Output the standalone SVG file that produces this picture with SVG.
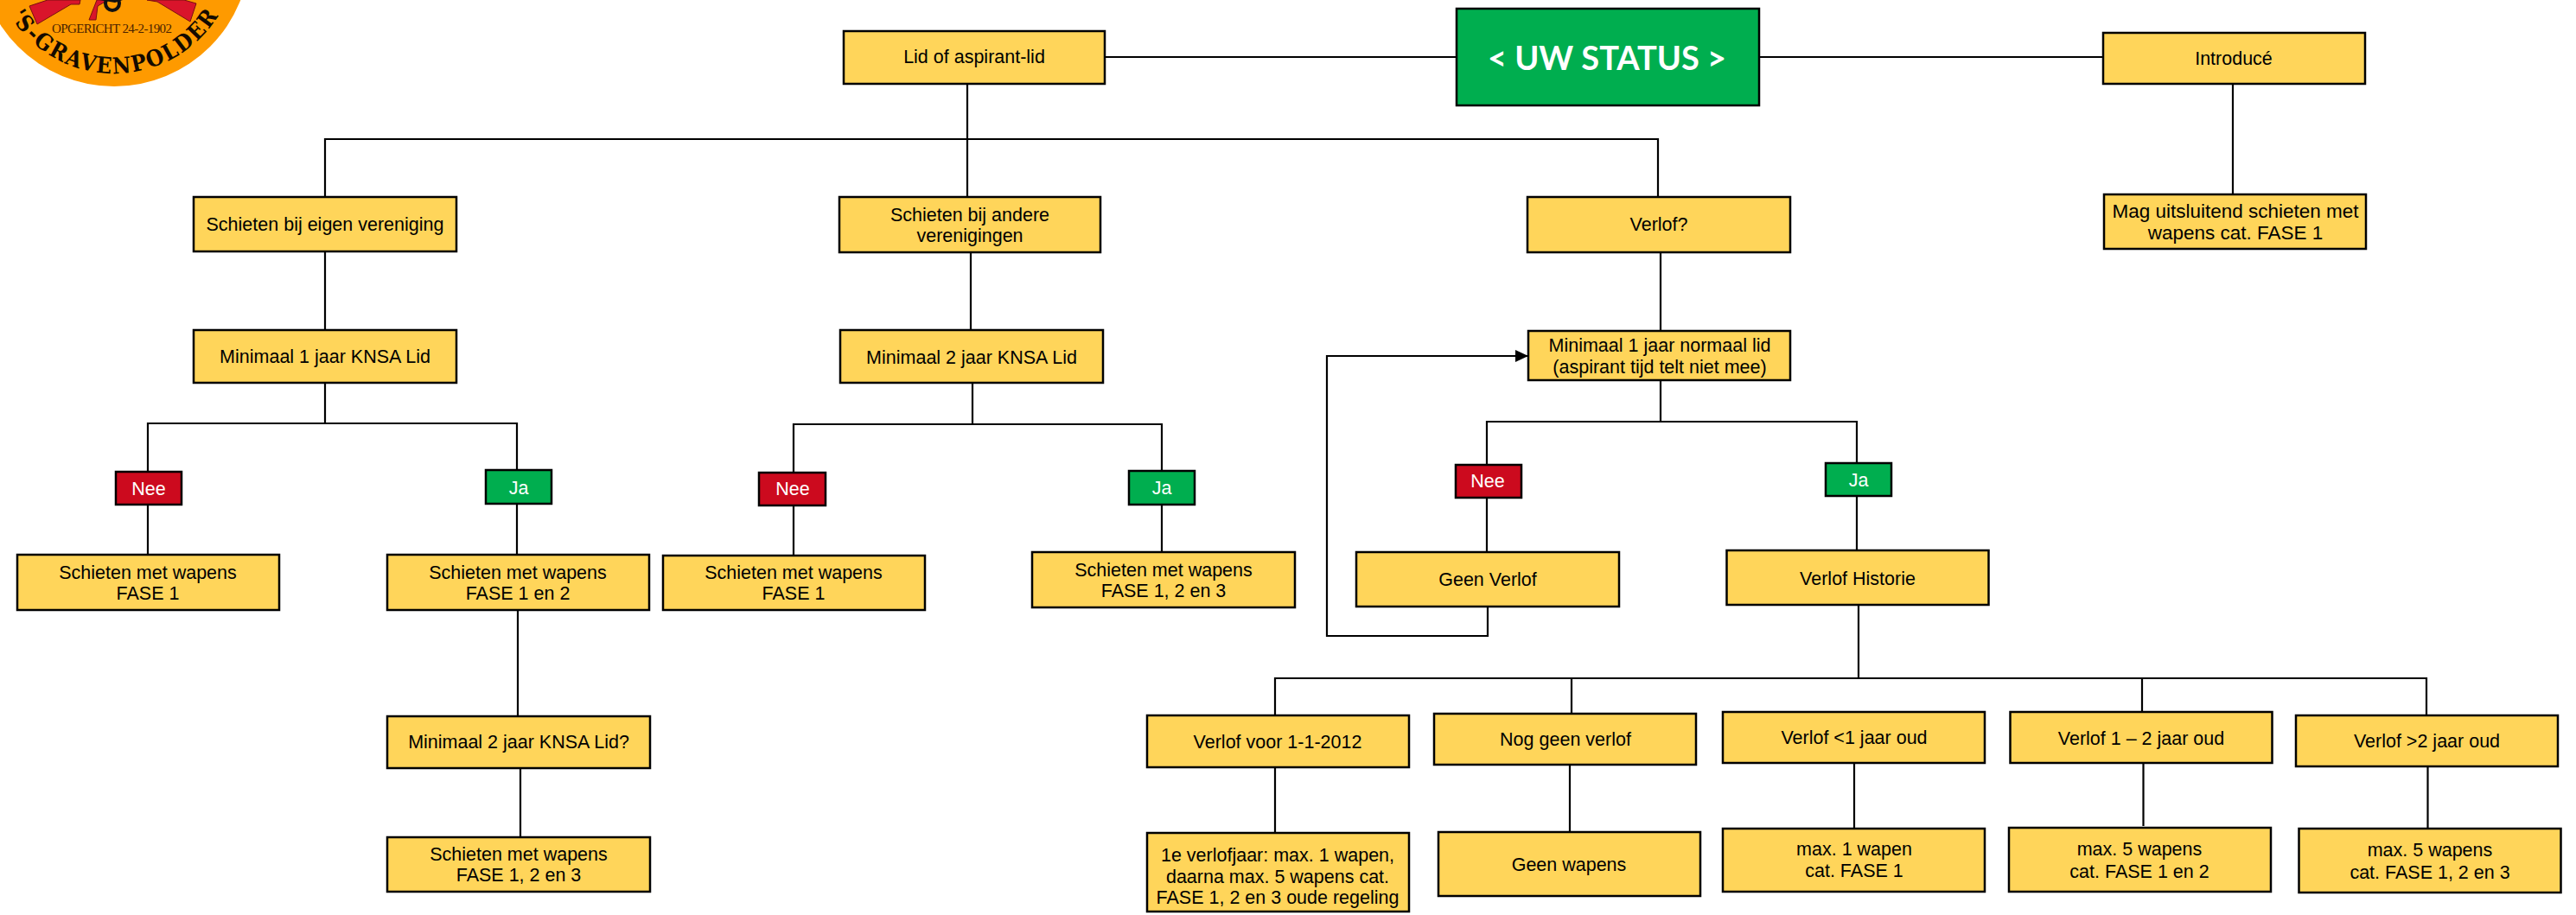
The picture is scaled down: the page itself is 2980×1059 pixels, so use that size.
<svg xmlns="http://www.w3.org/2000/svg" width="2980" height="1059" viewBox="0 0 2980 1059">
<style>
.b{fill:#FFD55A;stroke:#000;stroke-width:2.5}
.g{fill:#00AE4F;stroke:#000;stroke-width:2.5}
.r{fill:#CC0A1E;stroke:#000;stroke-width:2.5}
text{font-family:"Liberation Sans",Arial,sans-serif;font-size:21.5px;text-anchor:middle;fill:#000}
.w{fill:#fff}
.m{font-size:22.5px}
.s{font-family:Lato,"Liberation Sans",sans-serif;font-weight:700;font-size:38px;fill:#fff}
.c{fill:none;stroke:#000;stroke-width:2.2}
.l1{font-family:"Liberation Serif",serif;font-size:15px;fill:#4a2200}
.l2{font-family:"DejaVu Serif Condensed","DejaVu Serif",serif;font-size:26px;font-weight:700;fill:#140a00}
.red{fill:#D9142B;stroke:#7a1010;stroke-width:1}
</style>
<defs>
<marker id="arr" markerUnits="userSpaceOnUse" markerWidth="16" markerHeight="14" refX="15" refY="7" orient="auto"><path d="M0 0L15 7L0 14z" fill="#000"/></marker>
<path id="arc" d="M-10 -57A142 142 0 0 0 274 -57"/>
</defs>
<g id="logo">
<circle cx="132" cy="-57" r="157" fill="#FE9A00"/>
<path class="red" d="M34 7L43 28L82 5L92 5L93 0L55 0z"/>
<path class="red" d="M182 2L220 25L227 4L213 0L170 0z"/>
<path class="red" d="M103 23L111 23L113 7L125 0L112 0z"/>
<circle cx="130" cy="4" r="8" fill="none" stroke="#111" stroke-width="4"/>
<path d="M115 0L142 0L133 3z" fill="#111"/>
<text class="l1" x="129.500" y="38" textLength="139">OPGERICHT 24-2-1902</text>
<text class="l2"><textPath href="#arc" startOffset="50%" textLength="287">'S-GRAVENPOLDER</textPath></text>
</g>
<g id="connectors" class="c">
<path d="M1278 66H1685M2035 66H2433"/>
<path d="M1119 97V228M376 228V161H1918V228"/>
<path d="M2583 97V225"/>
<path d="M376 291V382M376 443V490M171 546V490H598V544M171 584V642M598 583V642M599 706V829M602 889V969"/>
<path d="M1123 292V382M1125 443V491M918 547V491H1344V545M918 585V643M1344 584V639"/>
<path d="M1921 292V383M1921 440V488M1720 538V488H2148V536M1720 576V639M2148 574V637"/>
<path d="M1721 702V736H1535V412H1768" marker-end="url(#arr)"/>
<path d="M2150 700V785M1475 828V785H2807V828M1818 785V826M2478 785V824"/>
<path d="M1475 888V964M1816 885V963M2145 883V959M2479.500 882V956M2808.500 887V959"/>
</g>
<g id="n-lid"><rect class="b" x="976" y="36" width="302" height="61"/><text x="1127" y="73">Lid of aspirant-lid</text></g>
<g id="n-status"><rect class="g" x="1685" y="10" width="350" height="112"/><text class="s" x="1859" y="81">&lt; UW STATUS &gt;</text></g>
<g id="n-intro"><rect class="b" x="2433" y="38" width="303" height="59"/><text x="2584" y="75">Introducé</text></g>
<g id="n-mag"><rect class="b" x="2434" y="225" width="303" height="63"/><text class="m" x="2586" y="252">Mag uitsluitend schieten met</text><text class="m" x="2586" y="277">wapens cat. FASE 1</text></g>
<g id="n-eigen"><rect class="b" x="224" y="228" width="304" height="63"/><text x="376" y="267">Schieten bij eigen vereniging</text></g>
<g id="n-andere"><rect class="b" x="971" y="228" width="302" height="64"/><text x="1122" y="256">Schieten bij andere</text><text x="1122" y="280">verenigingen</text></g>
<g id="n-verlof"><rect class="b" x="1767" y="228" width="304" height="64"/><text x="1919" y="267">Verlof?</text></g>
<g id="n-min1"><rect class="b" x="224" y="382" width="304" height="61"/><text x="376" y="420">Minimaal 1 jaar KNSA Lid</text></g>
<g id="n-min2"><rect class="b" x="972" y="382" width="304" height="61"/><text x="1124" y="421">Minimaal 2 jaar KNSA Lid</text></g>
<g id="n-minnorm"><rect class="b" x="1768" y="383" width="303" height="57"/><text x="1920" y="407">Minimaal 1 jaar normaal lid</text><text x="1920" y="432">(aspirant tijd telt niet mee)</text></g>
<g id="n-nee1"><rect class="r" x="134" y="546" width="76" height="38"/><text class="w" x="172" y="573">Nee</text></g>
<g id="n-ja1"><rect class="g" x="562" y="544" width="76" height="39"/><text class="w" x="600" y="572">Ja</text></g>
<g id="n-f1a"><rect class="b" x="20" y="642" width="303" height="64"/><text x="171" y="670">Schieten met wapens</text><text x="171" y="694">FASE 1</text></g>
<g id="n-f12"><rect class="b" x="448" y="642" width="303" height="64"/><text x="599" y="670">Schieten met wapens</text><text x="599" y="694">FASE 1 en 2</text></g>
<g id="n-min2q"><rect class="b" x="448" y="829" width="304" height="60"/><text x="600" y="866">Minimaal 2 jaar KNSA Lid?</text></g>
<g id="n-f123a"><rect class="b" x="448" y="969" width="304" height="63"/><text x="600" y="996">Schieten met wapens</text><text x="600" y="1020">FASE 1, 2 en 3</text></g>
<g id="n-nee2"><rect class="r" x="878" y="547" width="77" height="38"/><text class="w" x="917" y="573">Nee</text></g>
<g id="n-ja2"><rect class="g" x="1306" y="545" width="76" height="39"/><text class="w" x="1344" y="572">Ja</text></g>
<g id="n-f1b"><rect class="b" x="767" y="643" width="303" height="63"/><text x="918" y="670">Schieten met wapens</text><text x="918" y="694">FASE 1</text></g>
<g id="n-f123b"><rect class="b" x="1194" y="639" width="304" height="64"/><text x="1346" y="667">Schieten met wapens</text><text x="1346" y="691">FASE 1, 2 en 3</text></g>
<g id="n-nee3"><rect class="r" x="1684" y="538" width="76" height="38"/><text class="w" x="1721" y="564">Nee</text></g>
<g id="n-ja3"><rect class="g" x="2112" y="536" width="76" height="38"/><text class="w" x="2150" y="563">Ja</text></g>
<g id="n-geen"><rect class="b" x="1569" y="639" width="304" height="63"/><text x="1721" y="678">Geen Verlof</text></g>
<g id="n-hist"><rect class="b" x="1997.500" y="637" width="303" height="63"/><text x="2149" y="677">Verlof Historie</text></g>
<g id="n-v2012"><rect class="b" x="1327" y="828" width="303" height="60"/><text x="1478" y="866">Verlof voor 1-1-2012</text></g>
<g id="n-nog"><rect class="b" x="1659" y="826" width="303" height="59"/><text x="1811" y="863">Nog geen verlof</text></g>
<g id="n-vl1"><rect class="b" x="1993" y="824" width="303" height="59"/><text x="2145" y="861">Verlof &lt;1 jaar oud</text></g>
<g id="n-v12"><rect class="b" x="2325.500" y="824" width="303" height="59"/><text x="2477" y="862">Verlof 1 – 2 jaar oud</text></g>
<g id="n-vg2"><rect class="b" x="2656" y="828" width="303" height="59"/><text x="2807.500" y="865">Verlof &gt;2 jaar oud</text></g>
<g id="n-1e"><rect class="b" x="1327" y="964" width="303" height="91"/><text x="1478" y="997">1e verlofjaar: max. 1 wapen,</text><text x="1478" y="1022">daarna max. 5 wapens cat.</text><text x="1478" y="1046">FASE 1, 2 en 3 oude regeling</text></g>
<g id="n-gw"><rect class="b" x="1664" y="963" width="303" height="74"/><text x="1815" y="1008">Geen wapens</text></g>
<g id="n-m1"><rect class="b" x="1993" y="959" width="303" height="73"/><text x="2145" y="990">max. 1 wapen</text><text x="2145" y="1015">cat. FASE 1</text></g>
<g id="n-m5a"><rect class="b" x="2324" y="958" width="303" height="74"/><text x="2475" y="990">max. 5 wapens</text><text x="2475" y="1016">cat. FASE 1 en 2</text></g>
<g id="n-m5b"><rect class="b" x="2659.500" y="959" width="303" height="74"/><text x="2811" y="991">max. 5 wapens</text><text x="2811" y="1017">cat. FASE 1, 2 en 3</text></g>
</svg>
